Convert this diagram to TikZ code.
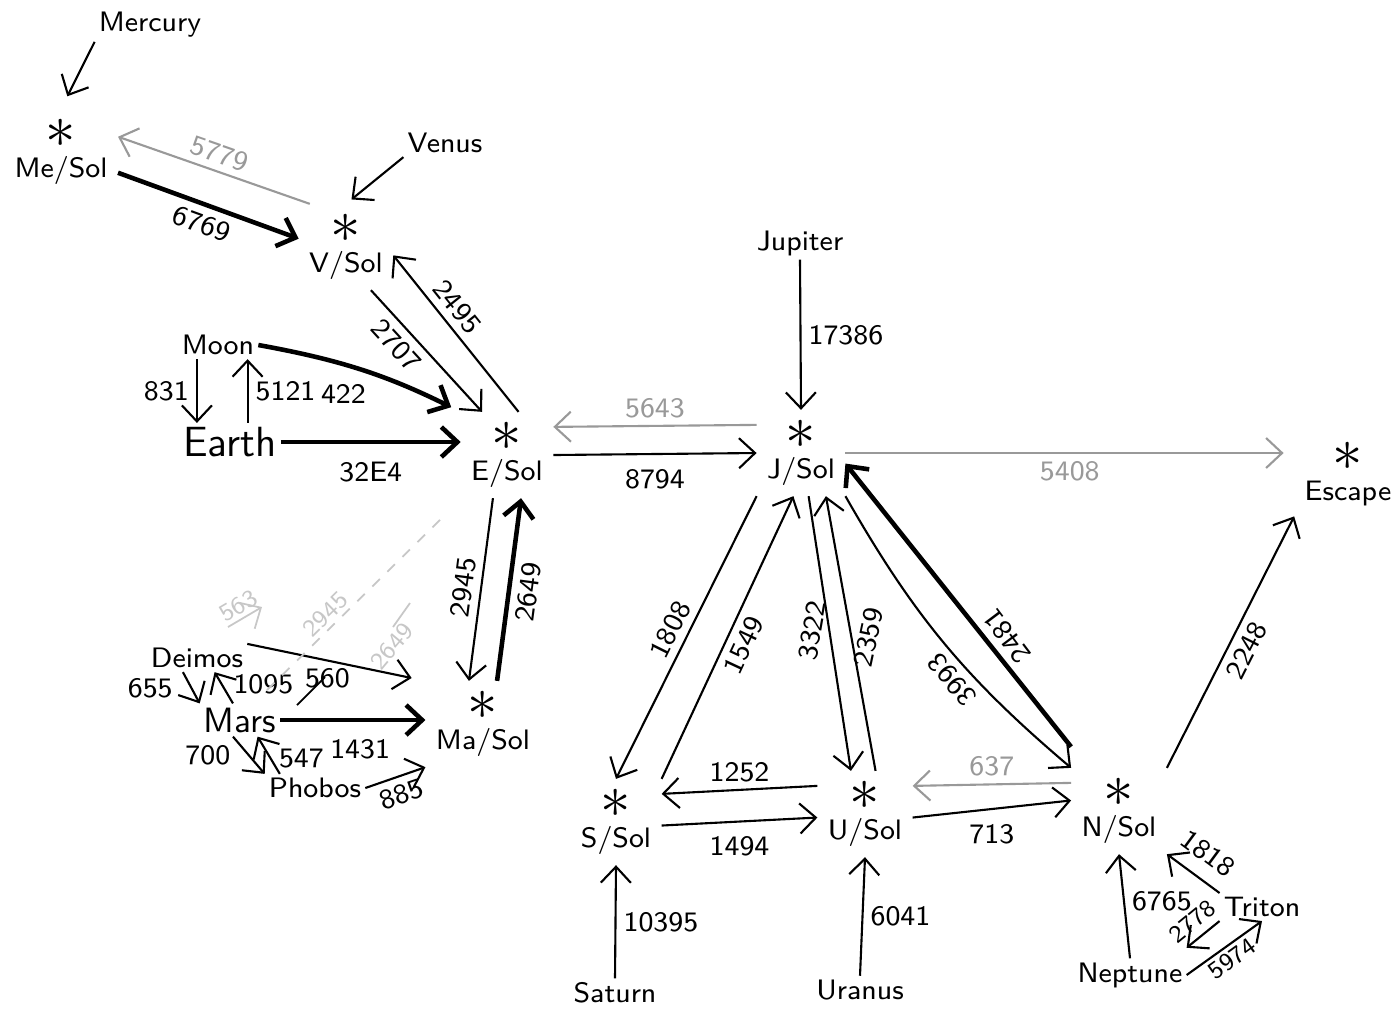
\documentclass[tikz,border=0pt]{standalone}
\usepackage{tikz}
\usetikzlibrary{arrows.meta}

\tikzset{
  body/.style={font=\sffamily\footnotesize, inner sep=1pt},
  sol/.style={body, align=center, outer sep=2pt},
  num/.style={font=\sffamily\footnotesize, inner sep=2pt},
  small num/.style={font=\sffamily\scriptsize, inner sep=1pt},
  dv/.style={->, line width=0.6pt},
  bigdv/.style={->, line width=1.3pt},
  faintdv/.style={->, line width=0.6pt, black!40},
  erased/.style={line width=0.5pt, black!22},
}
\newcommand{\solstar}{{\LARGE$\ast$}\\[-1pt]}

\begin{document}
\begin{tikzpicture}[x=0.01cm, y=-0.01cm, >={Straight Barb[length=1.6mm, width=3mm]}]
  \useasboundingbox (0,0) rectangle (1400,1020);

  % bodies
  \node [body] (mercury) at (150,25) {Mercury};
  \node [body] (venus) at (445,143) {Venus};
  \node [body] (moon) at (218,345) {Moon};
  \node [body, font=\sffamily\large] (earth) at (230,442) {Earth};
  \node [body] (jupiter) at (800,243) {Jupiter};
  \node [body] (deimos) at (197,658) {Deimos};
  \node [body, font=\sffamily\normalsize] (mars) at (240,720) {Mars};
  \node [body] (phobos) at (315,788) {Phobos};
  \node [body] (saturn) at (615,993) {Saturn};
  \node [body] (uranus) at (860,990) {Uranus};
  \node [body] (neptune) at (1130,975) {Neptune};
  \node [body] (triton) at (1262,907) {Triton};

  % solar orbits
  \node [sol] (mesol) at (61,152) {\solstar Me/Sol};
  \node [sol] (vsol) at (346,247) {\solstar V/Sol};
  \node [sol] (esol) at (507,455) {\solstar E/Sol};
  \node [sol] (masol) at (483,724) {\solstar Ma/Sol};
  \node [sol] (jsol) at (801,453) {\solstar J/Sol};
  \node [sol] (ssol) at (616,822) {\solstar S/Sol};
  \node [sol] (usol) at (865,814) {\solstar U/Sol};
  \node [sol] (nsol) at (1119,811) {\solstar N/Sol};
  \node [sol] (escape) at (1348,474) {\solstar Escape};

  % inner planets
  \draw [dv, shorten >=4pt] (mercury.south west) -- (mesol.north);
  \draw [dv, shorten >=2pt] (venus.south west) -- (vsol.north);
  \draw [bigdv] (mesol.-20) -- node [num, below, sloped] {6769} (vsol.170);
  \draw [faintdv] (vsol.130) -- node [num, above, sloped] {5779} (mesol.15);
  \draw [dv] ([xshift=-6pt]moon.south) -- node [num, left] {831} ([xshift=-6pt]moon.south |- earth.north);
  \draw [dv] ([xshift=5pt]earth.north) -- node [num, right=0pt] {5121} ([xshift=5pt]earth.north |- moon.south);
  \draw [bigdv, shorten >=3pt] (moon.east) to [bend left=8] node [num, below=3pt, pos=0.4] {422} (esol.north west);
  \draw [bigdv] (earth.east) -- node [num, below=3pt] {32E4} (esol.west |- earth.east);
  \draw [dv] (vsol.-60) -- node [num, below, sloped, pos=0.35] {2707} (esol.120);
  \draw [dv] (esol.75) -- node [num, above, sloped, pos=0.6] {2495} (vsol.-10);
  \draw [faintdv] ([yshift=8pt]jsol.west) -- node [num, above] {5643} ([yshift=8pt]esol.east);
  \draw [dv] (esol.east) -- node [num, below=2pt] {8794} (jsol.west);
  \draw [dv] ([xshift=-4pt]esol.south) -- node [num, above, sloped] {2945} ([xshift=-4pt]masol.north);
  \draw [bigdv] ([xshift=4pt]masol.north) -- node [num, below, sloped] {2649} ([xshift=4pt]esol.south);

  % mars and moons
  \draw [dv] ([xshift=-4pt]deimos.south) -- node [num, left=3pt] {655} (mars.north west);
  \draw [dv] ([xshift=-2pt]mars.north) -- node [num, right=1pt, pos=0.6] {1095} ([xshift=5pt]deimos.south);
  \draw [dv] ([xshift=-2pt]mars.south) -- node [num, left=3pt] {700} (phobos.north west);
  \draw [dv] ([xshift=-10pt]phobos.north) -- node [num, right=0pt, pos=0.4] {547} ([xshift=5pt]mars.south);
  \draw [dv, shorten >=4pt] (deimos.north east) -- node [num, below, pos=0.45] {560} (masol.north west);
  \draw [bigdv] (mars.east) -- node [num, below=3pt, pos=0.55] {1431} (masol.west |- mars.east);
  \draw [dv] (phobos.east) -- node [num, below, sloped] {885} (masol.south west);

  % erased pencil marks
  \coordinate (e1) at (228,627);
  \coordinate (e2) at (262,607);
  \coordinate (e3) at (267,690);
  \coordinate (e4) at (445,515);
  \coordinate (e5) at (393,627);
  \coordinate (e6) at (410,603);
  \coordinate (e7) at (297,705);
  \coordinate (e8) at (325,677);
  \draw [erased, ->] (e1) -- node [small num, above, sloped] {563} (e2);
  \draw [erased, dashed] (e3) -- node [small num, above, sloped, pos=0.38] {2945} (e4);
  \draw [erased] (e5) -- node [small num, below left, rotate=50] {2649} (e6);
  \draw [line width=0.5pt] (e7) -- (e8);

  % outer planets
  \draw [dv] (jupiter.south) -- node [num, right] {17386} (jsol.north);
  \draw [faintdv, shorten >=3pt] (jsol.east) -- node [num, below] {5408} (escape.west |- jsol.east);
  \draw [dv] (nsol.north east) -- node [num, below, sloped] {2248} (escape.south west);
  \draw [dv] (jsol.south west) -- node [num, above, sloped] {1808} (ssol.north);
  \draw [dv] (ssol.north east) -- node [num, below, sloped] {1549} (jsol.-100);
  \draw [dv] (jsol.-80) -- node [num, above, rotate=80] {3322} ([xshift=-4pt]usol.north);
  \draw [dv] ([xshift=3pt]usol.north) -- node [num, below, rotate=78] {2359} (jsol.-60);
  \draw [dv] (jsol.south east) to [bend right=10] node [num, above, rotate=130, pos=0.6] {3993} (nsol.north west);
  \draw [bigdv] ([yshift=6pt]nsol.north west) -- node [num, below, rotate=127, pos=0.35] {2481} ([yshift=-3pt]jsol.east);
  \draw [dv] ([yshift=8pt]usol.west) -- node [num, above] {1252} ([yshift=8pt]ssol.east);
  \draw [dv] ([yshift=-1pt]ssol.east) -- node [num, below=2pt] {1494} ([yshift=-1pt]usol.west);
  \draw [faintdv] ([yshift=8pt]nsol.west) -- node [num, above] {637} ([yshift=8pt]usol.east);
  \draw [dv] ([yshift=-1pt]usol.east) -- node [num, below=2pt] {713} ([yshift=3pt]nsol.west);
  \draw [dv] (saturn.north) -- node [num, right] {10395} (ssol.south);
  \draw [dv] (uranus.north) -- node [num, right] {6041} (usol.south);
  \draw [dv] (neptune.north) -- node [num, right=0pt, pos=0.55] {6765} (nsol.south);
  \draw [dv] (triton.north west) -- node [num, above=2pt, sloped] {1818} (nsol.south east);
  \draw [dv] (triton.south west) -- node [small num, above=1pt, sloped] {2778} ([yshift=3pt]neptune.north east);
  \draw [dv] (neptune.east) -- node [small num, below, sloped] {5974} (triton.south);
\end{tikzpicture}
\end{document}
